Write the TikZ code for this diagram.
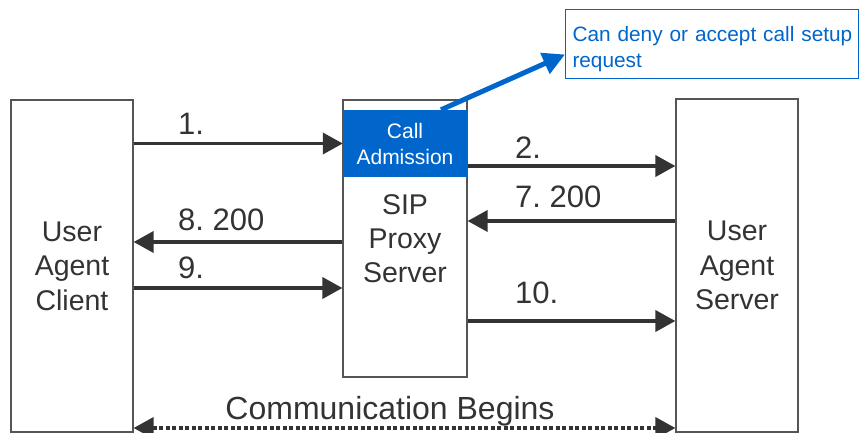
\documentclass[tikz,border=0pt]{standalone}
\usepackage{fontspec}
\setmainfont{Liberation Sans}
\usetikzlibrary{arrows.meta}
\definecolor{ink}{HTML}{333333}
\definecolor{frame}{HTML}{555555}
\definecolor{cblue}{HTML}{0066CC}
\frenchspacing
\hbadness=10000 \hfuzz=20pt
\begin{document}
\begin{tikzpicture}[x=1pt,y=-1pt,
  box/.style={draw=frame, line width=1.2pt, fill=white, inner sep=0pt, align=center,
    text=ink, font=\fontsize{28.5}{34.5}\selectfont},
  lbl/.style={font=\fontsize{31}{36}\selectfont, text=ink, anchor=base west, inner sep=0pt},
  msg/.style={draw=ink, line width=3.7pt, -{Triangle[length=20pt,width=21pt]}},
  tip/.tip={Triangle[length=20pt,width=21pt]}
]
\useasboundingbox (0,0) rectangle (859,433);
% boxes
\node[box, minimum width=122pt, minimum height=332pt] (uac) at (72,266) {User\\Agent\\Client};
\node[box, minimum width=124pt, minimum height=277pt, font=\fontsize{28.5}{34}\selectfont] (sip) at (405,238.5) {SIP\\Proxy\\Server};
\node[box, minimum width=122pt, minimum height=333pt] (uas) at (737,265.5) {User\\Agent\\Server};
\node[fill=cblue, text=white, inner sep=0pt, minimum width=124pt, minimum height=67pt, align=center,
  font=\fontsize{21}{26}\selectfont] (cadm) at (405,143.5) {Call\\Admission};
\node[draw=cblue, line width=1pt, fill=white, text=cblue, minimum width=293pt, minimum height=69pt,
  inner sep=0pt, text width=279pt, align=left, font=\fontsize{20.8}{26}\selectfont] (callout) at (712,44.5)
  {\mbox{\rule{0pt}{24pt}Can deny or accept call setup}\\request};
% rows
\coordinate (r2) at (0,166);
\coordinate (r7) at (0,221);
\coordinate (r8) at (0,242);
\coordinate (r9) at (0,288);
\coordinate (r10) at (0,321);
\coordinate (rc) at (0,428);
% messages
\draw[msg] (uac.east |- cadm.west) -- (cadm.west);
\draw[msg] (sip.east |- r2) -- (uas.west |- r2);
\draw[msg] (uas.west |- r7) -- (sip.east |- r7);
\draw[msg] (sip.west |- r8) -- (uac.east |- r8);
\draw[msg] (uac.east |- r9) -- (sip.west |- r9);
\draw[msg] (sip.east |- r10) -- (uas.west |- r10);
\draw[draw=ink, line width=3.5pt, dash pattern=on 4pt off 2.5pt, {tip}-{tip}] (uac.east |- rc) -- (uas.west |- rc);
\draw[draw=cblue, line width=5pt, -{Triangle[length=22pt,width=22pt]}] ([xshift=36pt]cadm.north) -- ([yshift=-10pt]callout.west);
% labels
\node[lbl] (l1) at (178,135) {1.};
\node[lbl] (l2) at (515,158) {2.};
\node[lbl] (l7) at (515,207) {7. 200};
\node[lbl] (l8) at (178,230) {8. 200};
\node[lbl] (l9) at (178,278) {9.};
\node[lbl] (l10) at (515,303) {10.};
\node[lbl, anchor=base, font=\fontsize{32}{36}\selectfont] (lc) at (390,419) {Communication Begins};
\end{tikzpicture}
\end{document}
